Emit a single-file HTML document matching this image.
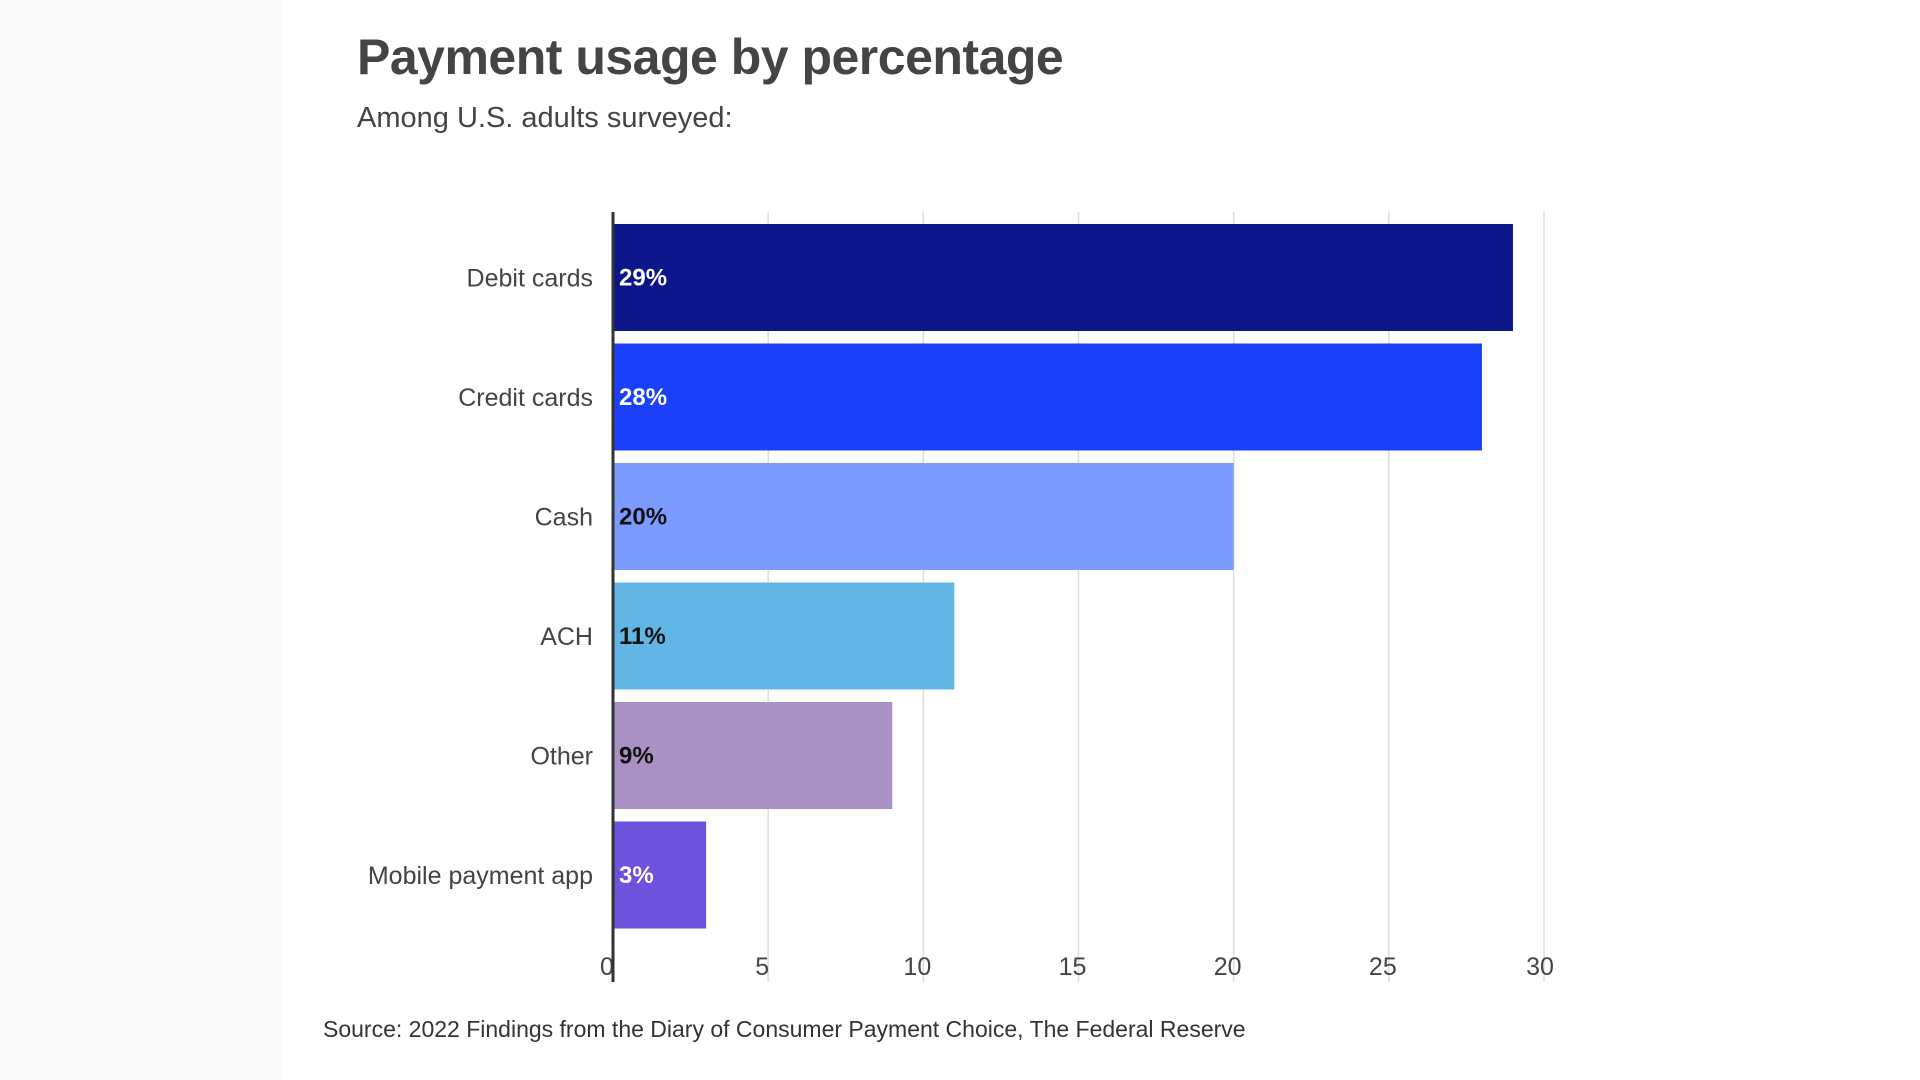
<!DOCTYPE html>
<html><head><meta charset="utf-8">
<style>
body{margin:0;width:1920px;height:1080px;background:#fff;font-family:"Liberation Sans",sans-serif;overflow:hidden;position:relative}
.side{position:absolute;top:0;left:0;width:282px;height:1080px;background:#fafafa}
#title{position:absolute;left:357px;top:28px;font-size:50px;font-weight:bold;color:#444;margin:0;letter-spacing:-0.5px}
#sub{position:absolute;left:357px;top:102px;font-size:29px;color:#444}
#src{position:absolute;left:323px;top:1016px;font-size:23px;color:#333}
svg{position:absolute;left:0;top:0}
</style></head><body>
<div class="side"></div>
<h1 id="title">Payment usage by percentage</h1>
<div id="sub">Among U.S. adults surveyed:</div>
<div id="src">Source: 2022 Findings from the Diary of Consumer Payment Choice, The Federal Reserve</div>
<svg id="chart" width="1920" height="1080"></svg>
<script>
const categories=["Debit cards","Credit cards","Cash","ACH","Other","Mobile payment app"];
const values=[29,28,20,11,9,3];
const valueLabels=["29%","28%","20%","11%","9%","3%"];
const ticks=[0,5,10,15,20,25,30];
const colors=["#0d1689","#1b40fa","#7b9bff","#62b6e6","#a991c3","#6c52dc"];
const textColors=["#fff","#fff","#111","#111","#111","#fff"];
const NS="http://www.w3.org/2000/svg";
const svg=document.getElementById('chart');
const x0=613,x1=1544,top0=212,bot=982,barTop=224,pitch=119.5,barH=107;
const xs=v=>x0+(v-0)/(30-0)*(x1-x0);
function mk(t,a){const e=document.createElementNS(NS,t);for(const k in a)e.setAttribute(k,a[k]);svg.appendChild(e);return e;}
ticks.forEach((t,i)=>{
  if(t>0){const g=mk('line',{x1:xs(t),x2:xs(t),y1:top0,y2:bot,stroke:'#ddd','stroke-width':1.5});
  
  }
  const tx=mk('text',{x:xs(t)-(t==30?4:6),y:975,'text-anchor':'middle','font-size':25,fill:'#444'});
  tx.textContent=t;
  
  
});
categories.forEach((c,i)=>{
  const y=barTop+i*pitch;
  const r=mk('rect',{x:xs(0),y:y,width:xs(values[i])-xs(0),height:barH,fill:colors[i]});
  
  
  const l=mk('text',{x:593,y:y+barH/2+9,'text-anchor':'end','font-size':25,fill:'#444'});
  l.textContent=c;
  
  
  const v=mk('text',{x:619,y:y+barH/2+8,'font-size':24,'font-weight':'bold',fill:textColors[i]});
  v.textContent=valueLabels[i];
  
  
});
const ax=mk('line',{x1:xs(0),x2:xs(0),y1:top0,y2:bot,stroke:'#333','stroke-width':3});


</script>
</body></html>
